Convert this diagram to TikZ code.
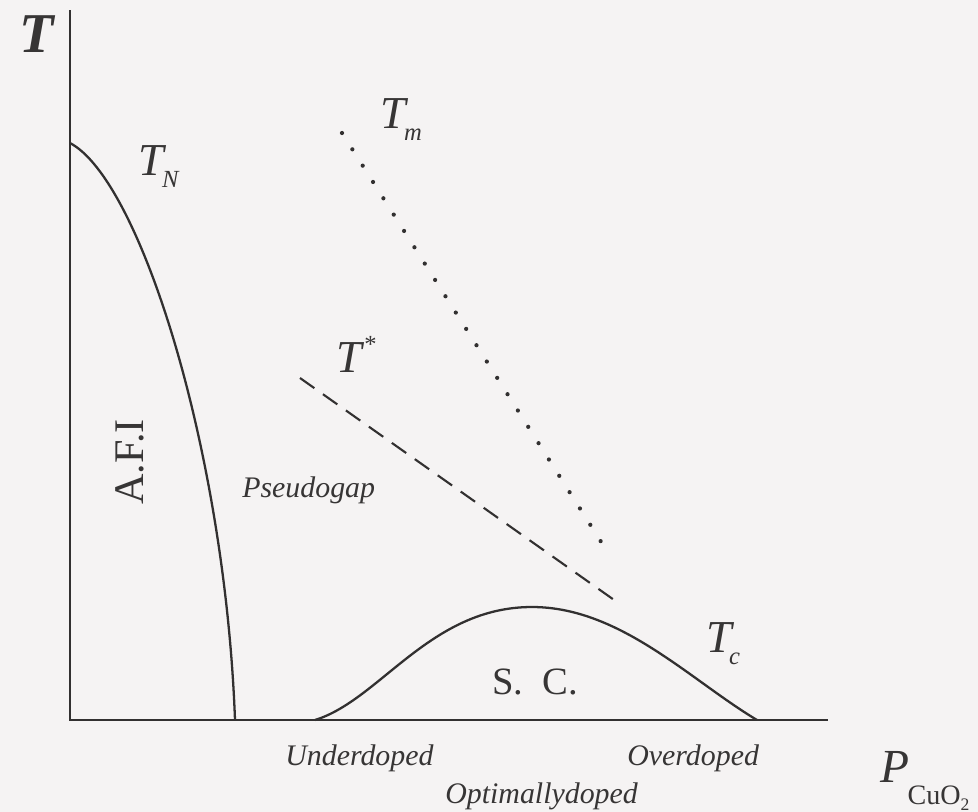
\documentclass[tikz,border=0pt]{standalone}
\usepackage{fontspec}
\setmainfont{Liberation Serif}
\definecolor{bgc}{RGB}{245,243,243}
\definecolor{linec}{RGB}{50,48,48}
\definecolor{textc}{RGB}{55,53,53}
\newcommand\Tsub[2]{\textit{T}\kern#2\raisebox{-7pt}{\fontsize{14}{14}\selectfont\textit{#1}}}
\begin{document}
\begin{tikzpicture}[x=0.02cm,y=-0.02cm,
  axisline/.style={draw=linec, line width=1.1pt},
  curveline/.style={draw=linec, line width=1.3pt},
  lab/.style={text=textc, inner sep=0pt},
  itlab/.style={lab, font=\fontsize{17}{17}\selectfont\itshape},
  tlab/.style={lab, font=\fontsize{26}{26}\selectfont},
  ]
\fill[bgc] (0,0) rectangle (978,812);
\useasboundingbox (0,0) rectangle (978,812);
% axes
\coordinate (O) at (70,720);
\coordinate (ytop) at (70,10);
\coordinate (xend) at (828,720);
\draw[axisline] (ytop) -- (O) -- (xend);
\node[lab, font=\fontsize{32}{32}\selectfont\bfseries\itshape] (Tax) at (37,34) {T};
\node[lab, anchor=base west, font=\fontsize{27}{27}\selectfont] (Pax) at (880,782)
  {\textit{P}\kern-1pt\raisebox{-13pt}{\fontsize{16}{16}\selectfont CuO\raisebox{-3pt}{\fontsize{10}{10}\selectfont 2}}};
% T_N curve
\coordinate (tn0) at (70,143);
\coordinate (tn1) at (235,720);
\draw[curveline] (tn0) .. controls (140,180) and (225,450) .. (tn1);
\node[tlab, anchor=base west] (TN) at (138,175) {\Tsub{N}{-2.5pt}};
% T_m dotted
\coordinate (tm0) at (342,133);
\coordinate (tm1) at (605,548);
\draw[linec, line width=2.4pt, line cap=round, dash pattern=on 0pt off 11pt] (tm0) -- (tm1);
\node[tlab, anchor=base west] (Tm) at (380,128) {\Tsub{m}{-2.5pt}};
% T* dashed
\coordinate (ts0) at (300,378);
\coordinate (ts1) at (617,602);
\draw[linec, line width=1.2pt, dash pattern=on 10pt off 6pt] (ts0) -- (ts1);
\node[tlab, anchor=base west] (Ts) at (336,372) {\textit{T}\raisebox{11pt}{\fontsize{14}{14}\selectfont *}};
% S.C. dome
\coordinate (sc0) at (315,720);
\coordinate (scp) at (532,607);
\coordinate (sc1) at (757,720);
\draw[curveline] (sc0) .. controls (380,700) and (430,607) .. (scp)
                       .. controls (620,607) and (690,680) .. (sc1);
\node[tlab, anchor=base west] (Tc) at (706,652) {\Tsub{c}{-3pt}};
% region labels
\node[lab, rotate=90, font=\fontsize{24}{24}\selectfont] (AFI) at (130,462) {A.F.I};
\node[itlab, anchor=base west] (PG) at (242,497) {Pseudogap};
\node[lab, font=\fontsize{22}{22}\selectfont] (SC) at (535,682) {S.\ \ C.};
\node[itlab, anchor=base west] (UD) at (285,765) {Underdoped};
\node[itlab, anchor=base west] (OD) at (627,765) {Overdoped};
\node[itlab, anchor=base west] (OPD) at (445,803) {Optimallydoped};
\end{tikzpicture}
\end{document}
